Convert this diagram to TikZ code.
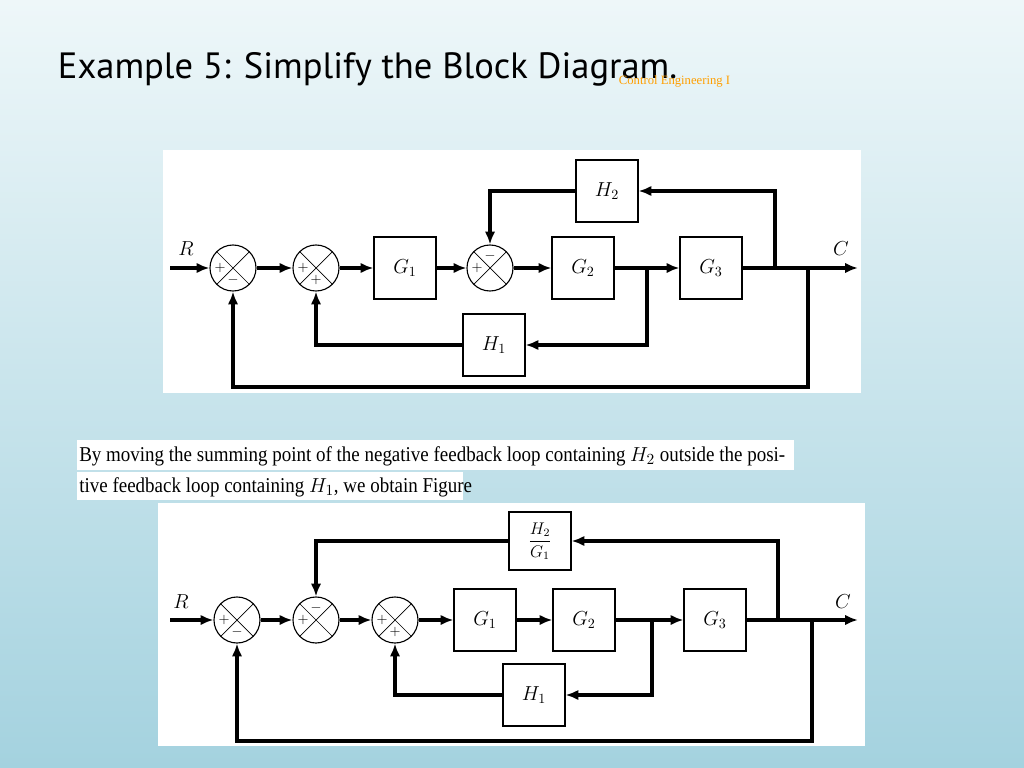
\documentclass[tikz,border=0pt]{standalone}
\usepackage{fontspec}
\setsansfont{PT Sans}
\newfontfamily\capfont[FakeStretch=0.9]{Liberation Serif}
\newfontfamily\markfont{Liberation Serif}
\usetikzlibrary{positioning, arrows.meta}
\definecolor{bgtop}{HTML}{EEF7F9}
\definecolor{bgbot}{HTML}{A4D2DF}

\begin{document}
\begin{tikzpicture}[x=0.025cm, y=-0.025cm,
	blk/.style={draw, line width=0.8pt, fill=white, minimum width=1.55cm, minimum height=1.55cm, font=\Large},
	sumpt/.style={draw, circle, line width=0.8pt, fill=white, minimum size=1.15cm, inner sep=0pt,
		path picture={\draw[line width=0.5pt] (path picture bounding box.north west) -- (path picture bounding box.south east)
			(path picture bounding box.north east) -- (path picture bounding box.south west);}},
	sgn/.style={inner sep=0pt, font=\normalsize},
	sig/.style={line width=2.2pt, -{Latex[length=3.2mm, width=2.6mm]}},
	wire/.style={line width=2.2pt}]
	% Background
	\shade[top color=bgtop, bottom color=bgbot] (0,0) rectangle (1024,768);
	\useasboundingbox (0,0) rectangle (1024,768);
	% Title
	\node[anchor=west, font=\sffamily\fontsize{26}{30}\selectfont] (title) at (53,69) {Example 5: Simplify the Block Diagram.};
	\node[anchor=west, text=orange!75!yellow, font=\markfont\fontsize{9}{10}\selectfont] (mark) at (614,81) {Control Engineering I};
	% First diagram
	\fill[white] (163,150) rectangle (861,393);
	\node[sumpt] (a1) at (233,268) {};
	\node[sumpt] (a2) at (316,268) {};
	\node[blk] (ag1) at (405,268) {$G_1$};
	\node[sumpt] (a3) at (490,268) {};
	\node[blk] (ag2) at (583,268) {$G_2$};
	\node[blk] (ag3) at (711,268) {$G_3$};
	\node[blk] (ah1) at (494,345) {$H_1$};
	\node[blk] (ah2) at (607,191) {$H_2$};
	\node[sgn] (a1p) at ([xshift=-0.32cm]a1.center) {$+$};
	\node[sgn] (a1m) at ([yshift=-0.3cm]a1.center) {$-$};
	\node[sgn] (a2p) at ([xshift=-0.32cm]a2.center) {$+$};
	\node[sgn] (a2q) at ([yshift=-0.3cm]a2.center) {$+$};
	\node[sgn] (a3p) at ([xshift=-0.32cm]a3.center) {$+$};
	\node[sgn] (a3m) at ([yshift=0.3cm]a3.center) {$-$};
	\coordinate (ain) at (170,268);
	\coordinate (aout) at (858,268);
	\coordinate (ab1) at (647,268);
	\coordinate (ab2) at (775,268);
	\coordinate (ab3) at (808,268);
	\node[font=\Large] (ar) at (186,249) {$R$};
	\node[font=\Large] (ac) at (841,249) {$C$};
	% Arrows forward
	\draw[sig] (ain) -- (a1);
	\draw[sig] (a1) -- (a2);
	\draw[sig] (a2) -- (ag1);
	\draw[sig] (ag1) -- (a3);
	\draw[sig] (a3) -- (ag2);
	\draw[sig] (ag2) -- (ag3);
	\draw[sig] (ag3) -- (aout);
	% Arrows feedback
	\draw[sig] (ab1) |- (ah1);
	\draw[sig] (ah1) -| (a2);
	\draw[sig] (ab2) |- (ah2);
	\draw[sig] (ah2) -| (a3);
	\draw[sig] (ab3) |- (233,387) -- (a1);
	% Caption
	\fill[white] (77,440) rectangle (794,470);
	\fill[white] (77,472) rectangle (463,500);
	\node[anchor=west, inner sep=0pt, font=\capfont\fontsize{15}{17}\selectfont] (cap1) at (79,456) {By moving the summing point of the negative feedback loop containing $H_2$ outside the posi-};
	\node[anchor=west, inner sep=0pt, font=\capfont\fontsize{15}{17}\selectfont] (cap2) at (79,487) {tive feedback loop containing $H_1$, we obtain Figure};
	% Second diagram
	\fill[white] (158,503) rectangle (865,746);
	\node[sumpt] (b1) at (237,620) {};
	\node[sumpt] (b2) at (316,620) {};
	\node[sumpt] (b3) at (395,620) {};
	\node[blk] (bg1) at (485,620) {$G_1$};
	\node[blk] (bg2) at (584,620) {$G_2$};
	\node[blk] (bg3) at (715,620) {$G_3$};
	\node[blk] (bh1) at (534,695) {$H_1$};
	\node[blk, minimum height=1.45cm, font=\large] (bh2) at (540,541) {$\displaystyle\frac{H_2}{G_1}$};
	\node[sgn] (b1p) at ([xshift=-0.32cm]b1.center) {$+$};
	\node[sgn] (b1m) at ([yshift=-0.3cm]b1.center) {$-$};
	\node[sgn] (b2p) at ([xshift=-0.32cm]b2.center) {$+$};
	\node[sgn] (b2m) at ([yshift=0.3cm]b2.center) {$-$};
	\node[sgn] (b3p) at ([xshift=-0.32cm]b3.center) {$+$};
	\node[sgn] (b3q) at ([yshift=-0.3cm]b3.center) {$+$};
	\coordinate (bin) at (170,620);
	\coordinate (bout) at (858,620);
	\coordinate (bb1) at (652,620);
	\coordinate (bb2) at (778,620);
	\coordinate (bb3) at (812,620);
	\node[font=\Large] (br) at (181,602) {$R$};
	\node[font=\Large] (bc) at (843,602) {$C$};
	% Arrows forward
	\draw[sig] (bin) -- (b1);
	\draw[sig] (b1) -- (b2);
	\draw[sig] (b2) -- (b3);
	\draw[sig] (b3) -- (bg1);
	\draw[sig] (bg1) -- (bg2);
	\draw[sig] (bg2) -- (bg3);
	\draw[sig] (bg3) -- (bout);
	% Arrows feedback
	\draw[sig] (bb1) |- (bh1);
	\draw[sig] (bh1) -| (b3);
	\draw[sig] (bb2) |- (bh2);
	\draw[sig] (bh2) -| (b2);
	\draw[sig] (bb3) |- (237,741) -- (b1);
\end{tikzpicture}
\end{document}
